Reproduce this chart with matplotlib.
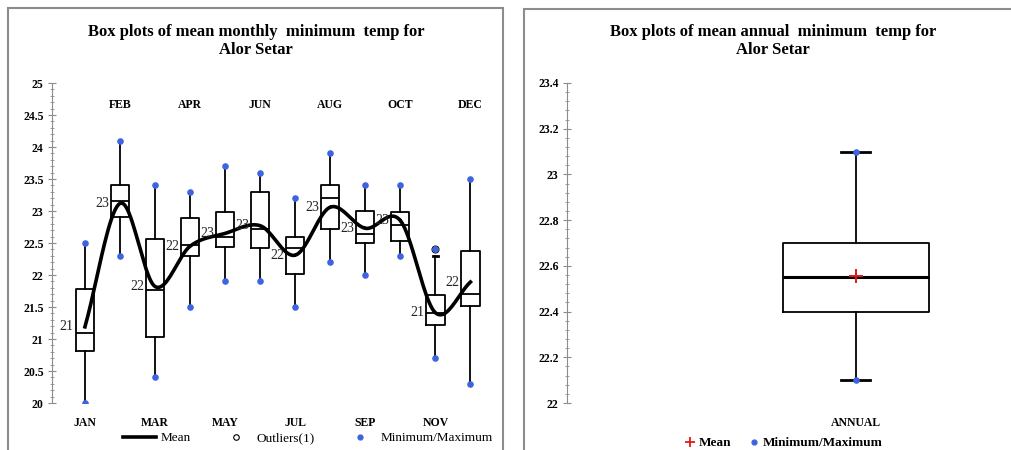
import matplotlib
matplotlib.use('Agg')
import matplotlib.pyplot as plt
import numpy as np
from matplotlib.lines import Line2D
from matplotlib.patches import Rectangle
from matplotlib.ticker import MultipleLocator, FuncFormatter

plt.rcParams['font.family'] = 'Liberation Serif'

# monthly minimum temperature box statistics (deg C)
months = ['JAN', 'FEB', 'MAR', 'APR', 'MAY', 'JUN',
          'JUL', 'AUG', 'SEP', 'OCT', 'NOV', 'DEC']
q1 = [20.82, 22.90, 21.03, 22.30, 22.43, 22.42, 22.02, 22.72, 22.50, 22.53, 21.22, 21.52]
med = [21.10, 23.15, 21.76, 22.47, 22.60, 22.72, 22.42, 23.21, 22.64, 22.78, 21.40, 21.71]
q3 = [21.78, 23.40, 22.57, 22.89, 22.98, 23.29, 22.60, 23.40, 23.00, 22.98, 21.68, 22.38]
whis_lo = [20.0, 22.3, 20.4, 21.5, 21.9, 21.9, 21.5, 22.2, 22.0, 22.3, 20.7, 20.3]
whis_hi = [22.5, 24.1, 23.4, 23.3, 23.7, 23.6, 23.2, 23.9, 23.4, 23.4, 22.3, 23.5]
outliers = [[], [], [], [], [], [], [], [], [], [], [22.4], []]
mins = [20.0, 22.3, 20.4, 21.5, 21.9, 21.9, 21.5, 22.2, 22.0, 22.3, 20.7, 20.3]
maxs = [22.5, 24.1, 23.4, 23.3, 23.7, 23.6, 23.2, 23.9, 23.4, 23.4, 22.4, 23.5]
means = [21.19, 23.12, 21.82, 22.45, 22.65, 22.77, 22.31, 23.06, 22.73, 22.85, 21.41, 21.89]

# annual statistics
annual_label = 'ANNUAL'
annual_q1 = 22.40
annual_med = 22.55
annual_q3 = 22.70
annual_min = 22.10
annual_max = 23.10
annual_mean = 22.556

BLUE = '#3f63e0'
GRAY = '#8c8c8c'
W, H = 1011, 450


def px_axes(fig, left, right, top, bottom):
    """add axes using pixel edges measured from the top-left corner"""
    return fig.add_axes([left / W, 1 - bottom / H, (right - left) / W, (bottom - top) / H])


def smooth_line(xs, ys, n=24):
    """Catmull-Rom curve through the points, like Excel's smoothed line"""
    xs = np.asarray(xs, float)
    ys = np.asarray(ys, float)
    px = np.concatenate([[2 * xs[0] - xs[1]], xs, [2 * xs[-1] - xs[-2]]])
    py = np.concatenate([[2 * ys[0] - ys[1]], ys, [2 * ys[-1] - ys[-2]]])
    out_x, out_y = [], []
    t = np.linspace(0, 1, n)
    for i in range(1, len(px) - 2):
        for p, out in ((px, out_x), (py, out_y)):
            p0, p1, p2, p3 = p[i - 1], p[i], p[i + 1], p[i + 2]
            out.extend(0.5 * (2 * p1 + (-p0 + p2) * t
                              + (2 * p0 - 5 * p1 + 4 * p2 - p3) * t ** 2
                              + (-p0 + 3 * p1 - 3 * p2 + p3) * t ** 3))
    return out_x, out_y


def style_axis(ax, major, minor):
    for side in ('top', 'right', 'bottom'):
        ax.spines[side].set_visible(False)
    ax.spines['left'].set_color(GRAY)
    ax.yaxis.set_major_locator(MultipleLocator(major))
    ax.yaxis.set_minor_locator(MultipleLocator(minor))
    ax.yaxis.set_major_formatter(FuncFormatter(lambda v, p: f'{v:g}'))
    ax.tick_params(axis='y', which='major', direction='inout', length=6,
                   color=GRAY, labelsize=8.5, pad=3)
    ax.tick_params(axis='y', which='minor', direction='inout', length=3, color=GRAY)
    ax.tick_params(axis='x', length=0, labelsize=8.5, pad=10)
    for lab in ax.get_yticklabels() + ax.get_xticklabels():
        lab.set_fontweight('bold')


fig = plt.figure(figsize=(W / 100, H / 100), dpi=100)

# panel frames (open at the bottom, as in the screenshot)
fig.patches.append(Rectangle((8 / W, -0.1), 495 / W, 1.1 - 8 / H, transform=fig.transFigure,
                             fill=False, edgecolor=GRAY, lw=1.5))
fig.patches.append(Rectangle((524 / W, -0.1), 0.6, 1.1 - 9 / H, transform=fig.transFigure,
                             fill=False, edgecolor=GRAY, lw=1.5))

# ---- monthly panel
ax1 = px_axes(fig, 52, 495, 83, 403)
pos = np.arange(1, len(months) + 1)
stats = [dict(q1=a, med=b, q3=c, whislo=d, whishi=e, fliers=f)
         for a, b, c, d, e, f in zip(q1, med, q3, whis_lo, whis_hi, outliers)]
box_kw = dict(color='black', lw=1.3)
ax1.bxp(stats, positions=pos, widths=0.52, showcaps=False, patch_artist=False,
        boxprops=box_kw, whiskerprops=box_kw, medianprops=box_kw,
        flierprops=dict(marker='o', markersize=5, markerfacecolor='white',
                        markeredgecolor='black', markeredgewidth=0.8))
ax1.plot([pos[10] - 0.08, pos[10] + 0.08], [whis_hi[10]] * 2, color='black', lw=2)
ax1.scatter(pos, mins, s=14, color=BLUE, zorder=4)
ax1.scatter(pos, maxs, s=14, color=BLUE, zorder=4)
sx, sy = smooth_line(pos, means)
ax1.plot(sx, sy, color='black', lw=2.6, zorder=5)
for x, m in zip(pos, means):
    ax1.annotate(f'{m:.0f}', (x, m), xytext=(-8, 0), textcoords='offset points',
                 ha='right', va='center', fontsize=10, color='#222222', zorder=6)
ax1.set_xlim(0.06, 12.7)
ax1.set_ylim(20, 25)
ax1.set_xticks(pos[::2], months[::2])
for x, name in zip(pos[1::2], months[1::2]):
    ax1.text(x, 24.66, name, ha='center', va='center', fontsize=8.5, fontweight='bold')
style_axis(ax1, 0.5, 0.1)

fig.text(256 / W, 1 - 41 / H, 'Box plots of mean monthly  minimum  temp for\nAlor Setar',
         ha='center', va='center', fontsize=12, fontweight='bold', linespacing=1.1)

h_left = [Line2D([], [], color='black', lw=2.6),
          Line2D([], [], ls='none', marker='o', markersize=4, markerfacecolor='white',
                 markeredgecolor='black', markeredgewidth=0.8),
          Line2D([], [], ls='none', marker='o', markersize=3.5, color=BLUE)]
fig.legend(h_left, ['Mean', 'Outliers(1)', 'Minimum/Maximum'], ncol=3,
           loc='center', bbox_to_anchor=(308 / W, 1 - 438 / H), frameon=False,
           fontsize=9.5, handlelength=2.5, handletextpad=0.3, columnspacing=2.2)

# ---- annual panel
ax2 = px_axes(fig, 567, 1000, 83, 403)
annual_stats = [dict(q1=annual_q1, med=annual_med, q3=annual_q3,
                     whislo=annual_min, whishi=annual_max, fliers=[])]
ax2.bxp(annual_stats, positions=[1], widths=0.505, capwidths=0.1,
        boxprops=box_kw, whiskerprops=box_kw, capprops=dict(color='black', lw=2),
        medianprops=dict(color='black', lw=2.2))
ax2.scatter([1, 1], [annual_min, annual_max], s=14, color=BLUE, zorder=4)
ax2.scatter([1], [annual_mean], marker='+', s=90, color='#e01a1a', linewidths=1.4, zorder=5)
ax2.set_xlim(0, 1.5)
ax2.set_ylim(22, 23.4)
ax2.set_xticks([1], [annual_label])
style_axis(ax2, 0.2, 0.04)

fig.text(773 / W, 1 - 41 / H, 'Box plots of mean annual  minimum  temp for\nAlor Setar',
         ha='center', va='center', fontsize=12, fontweight='bold', linespacing=1.1)

h_right = [Line2D([], [], ls='none', marker='+', markersize=7, color='#e01a1a', mew=1.3),
           Line2D([], [], ls='none', marker='o', markersize=3.5, color=BLUE)]
fig.legend(h_right, ['Mean', 'Minimum/Maximum'], ncol=2, loc='center',
           bbox_to_anchor=(783 / W, 1 - 443 / H), frameon=False,
           prop=dict(size=9.5, weight='bold'), handlelength=1, handletextpad=0.2,
           columnspacing=1.2)

fig.savefig('out.png', dpi=100)
